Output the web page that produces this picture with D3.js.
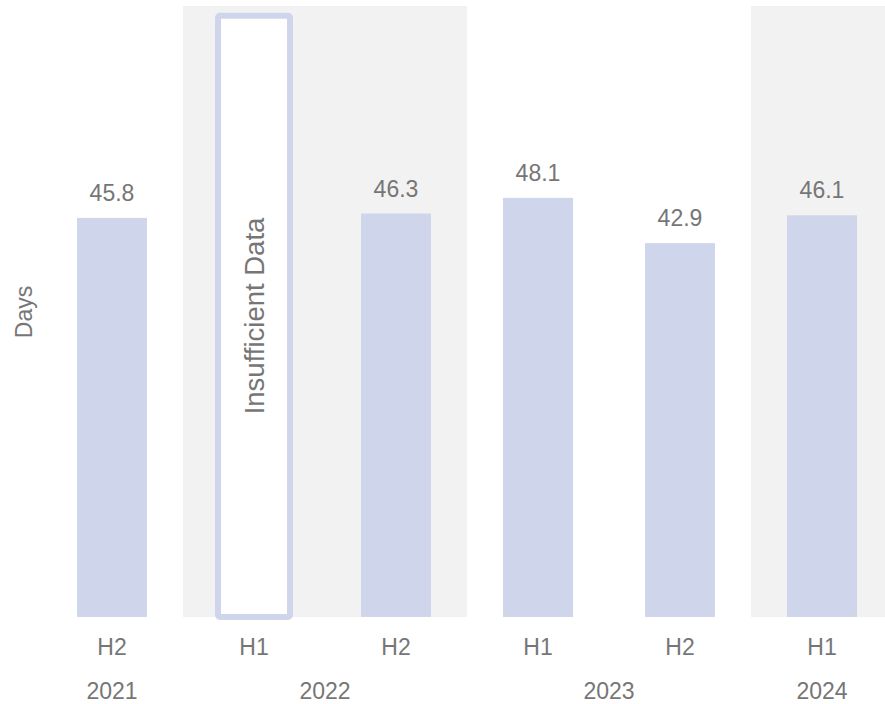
<!DOCTYPE html>
<html>
<head>
<meta charset="utf-8">
<script src="https://cdn.jsdelivr.net/npm/d3@7"></script>
<style>
  html, body { margin: 0; padding: 0; background: #ffffff; }
  svg { display: block; font-family: "Liberation Sans", Arial, sans-serif; }
</style>
</head>
<body>
<script>
// ---- data ----
const periods = ["2021-H2", "2022-H1", "2022-H2", "2023-H1", "2023-H2", "2024-H1"];
const halfLabels = ["H2", "H1", "H2", "H1", "H2", "H1"];
const years = ["2021", "2022", "2022", "2023", "2023", "2024"];
const values = [45.8, null, 46.3, 48.1, 42.9, 46.1];
const shadedYears = ["2022", "2024"];
const yAxisTitle = "Days";
const missingLabel = "Insufficient Data";
const missingBoxValue = 69;
const yDomain = [0, 70];

// ---- layout ----
const W = 885, H = 704;
const baseline = 617, plotTop = 7;
const svg = d3.select("body").append("svg").attr("width", W).attr("height", H);

const x = d3.scaleBand().domain(periods).range([41, 893])
  .paddingInner(0.507).paddingOuter(0.2535);
const y = d3.scaleLinear().domain(yDomain).range([baseline, plotTop]);

const textColor = "#767676";
const barColor = "#cfd5ea";
const bandColor = "#f2f2f2";

// shaded year bands
const uniqueYears = Array.from(new Set(years));
uniqueYears.forEach(yr => {
  if (!shadedYears.includes(yr)) return;
  const idx = periods.filter((p, i) => years[i] === yr);
  const x0 = x(idx[0]) + x.bandwidth() / 2 - x.step() / 2;
  const x1 = x(idx[idx.length - 1]) + x.bandwidth() / 2 + x.step() / 2;
  svg.append("rect")
    .attr("x", x0).attr("y", y(yDomain[1]) - 1)
    .attr("width", x1 - x0).attr("height", baseline - y(yDomain[1]) + 1)
    .attr("fill", bandColor);
});

const data = periods.map((p, i) => ({ p, v: values[i], half: halfLabels[i], year: years[i] }));

// bars
svg.selectAll("rect.bar").data(data.filter(d => d.v != null)).join("rect")
  .attr("class", "bar")
  .attr("x", d => x(d.p)).attr("width", x.bandwidth())
  .attr("y", d => y(d.v)).attr("height", d => baseline - y(d.v))
  .attr("fill", barColor);

// value labels
svg.selectAll("text.val").data(data.filter(d => d.v != null)).join("text")
  .attr("class", "val")
  .attr("x", d => x(d.p) + x.bandwidth() / 2)
  .attr("y", d => y(d.v) - 17)
  .attr("text-anchor", "middle")
  .attr("font-size", 23).attr("fill", textColor)
  .text(d => d.v.toFixed(1));

// insufficient data box
data.filter(d => d.v == null).forEach(d => {
  svg.append("rect")
    .attr("x", x(d.p) - 1).attr("width", x.bandwidth() + 2)
    .attr("y", y(missingBoxValue)).attr("height", baseline - y(missingBoxValue))
    .attr("rx", 2).attr("ry", 2)
    .attr("fill", "#ffffff").attr("stroke", barColor).attr("stroke-width", 6);
  const cx = x(d.p) + x.bandwidth() / 2;
  const cy = 316;
  svg.append("text")
    .attr("transform", `translate(${cx + 10},${cy}) rotate(-90)`)
    .attr("text-anchor", "middle")
    .attr("font-size", 27.5).attr("fill", textColor)
    .text(missingLabel);
});

// x tick labels (halves)
svg.selectAll("text.half").data(data).join("text")
  .attr("class", "half")
  .attr("x", d => x(d.p) + x.bandwidth() / 2)
  .attr("y", 655)
  .attr("text-anchor", "middle")
  .attr("font-size", 23).attr("fill", textColor)
  .text(d => d.half);

// year labels
uniqueYears.forEach(yr => {
  const idx = periods.filter((p, i) => years[i] === yr);
  const cx = d3.mean(idx, p => x(p) + x.bandwidth() / 2);
  svg.append("text")
    .attr("x", cx).attr("y", 699)
    .attr("text-anchor", "middle")
    .attr("font-size", 23).attr("fill", textColor)
    .text(yr);
});

// y axis title
svg.append("text")
  .attr("transform", `translate(32,312) rotate(-90)`)
  .attr("text-anchor", "middle")
  .attr("font-size", 23).attr("fill", textColor)
  .text(yAxisTitle);
</script>
</body>
</html>
